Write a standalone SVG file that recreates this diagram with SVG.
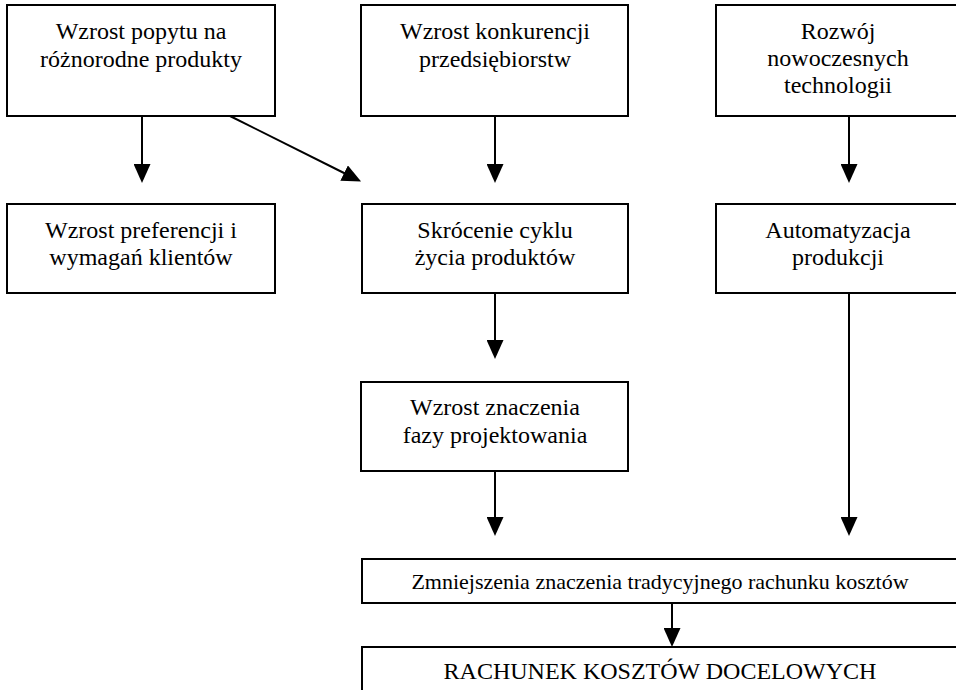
<svg xmlns="http://www.w3.org/2000/svg" width="956" height="690" viewBox="0 0 956 690">
<style>
.box{fill:#fff;stroke:#000;stroke-width:2}
.t{font-family:"Liberation Serif","Times New Roman",serif;font-size:24px;fill:#000;text-anchor:middle}
.s{font-size:22px}
.c{stroke:#000;stroke-width:2;fill:none;marker-end:url(#ah)}
</style>
<defs>
<marker id="ah" markerUnits="userSpaceOnUse" markerWidth="19" markerHeight="17" refX="1" refY="8.5" orient="auto" viewBox="0 0 19 17">
<path d="M0,0 L19,8.5 L0,17 z" fill="#000"/>
</marker>
</defs>
<rect width="956" height="690" fill="#fff"/>
<g id="connectors">
<line class="c" x1="142" y1="116" x2="142" y2="165"/>
<line class="c" x1="230" y1="116" x2="345" y2="173.5"/>
<line class="c" x1="495" y1="116" x2="495" y2="165"/>
<line class="c" x1="849" y1="116" x2="849" y2="165"/>
<line class="c" x1="495" y1="293" x2="495" y2="341"/>
<line class="c" x1="849" y1="293" x2="849" y2="518"/>
<line class="c" x1="495" y1="471" x2="495" y2="518"/>
<line class="c" x1="672" y1="603" x2="672" y2="629"/>
</g>
<g id="n1"><rect class="box" x="7" y="5" width="268" height="111"/>
<text class="t" x="141" y="39">Wzrost popytu na</text><text class="t" x="141" y="67">różnorodne produkty</text></g>
<g id="n2"><rect class="box" x="361" y="5" width="267" height="111"/>
<text class="t" x="495" y="39">Wzrost konkurencji</text><text class="t" x="495" y="67">przedsiębiorstw</text></g>
<g id="n3"><rect class="box" x="716" y="5" width="250" height="111"/>
<text class="t" x="838" y="39">Rozwój</text><text class="t" x="838" y="66">nowoczesnych</text><text class="t" x="838" y="93">technologii</text></g>
<g id="n4"><rect class="box" x="7" y="204" width="268" height="89"/>
<text class="t" x="141" y="238">Wzrost preferencji i</text><text class="t" x="141" y="265">wymagań klientów</text></g>
<g id="n5"><rect class="box" x="362" y="204" width="266" height="89"/>
<text class="t" x="495" y="238">Skrócenie cyklu</text><text class="t" x="495" y="265">życia produktów</text></g>
<g id="n6"><rect class="box" x="716" y="204" width="250" height="89"/>
<text class="t" x="838" y="238">Automatyzacja</text><text class="t" x="838" y="265">produkcji</text></g>
<g id="n7"><rect class="box" x="361" y="382" width="267" height="89"/>
<text class="t" x="495" y="415">Wzrost znaczenia</text><text class="t" x="495" y="443">fazy projektowania</text></g>
<g id="n8"><rect class="box" x="362" y="559" width="604" height="44"/>
<text class="t s" x="660" y="589">Zmniejszenia znaczenia tradycyjnego rachunku kosztów</text></g>
<g id="n9"><rect class="box" x="362" y="647" width="604" height="60"/>
<text class="t" x="660" y="679">RACHUNEK KOSZTÓW DOCELOWYCH</text></g>
</svg>
